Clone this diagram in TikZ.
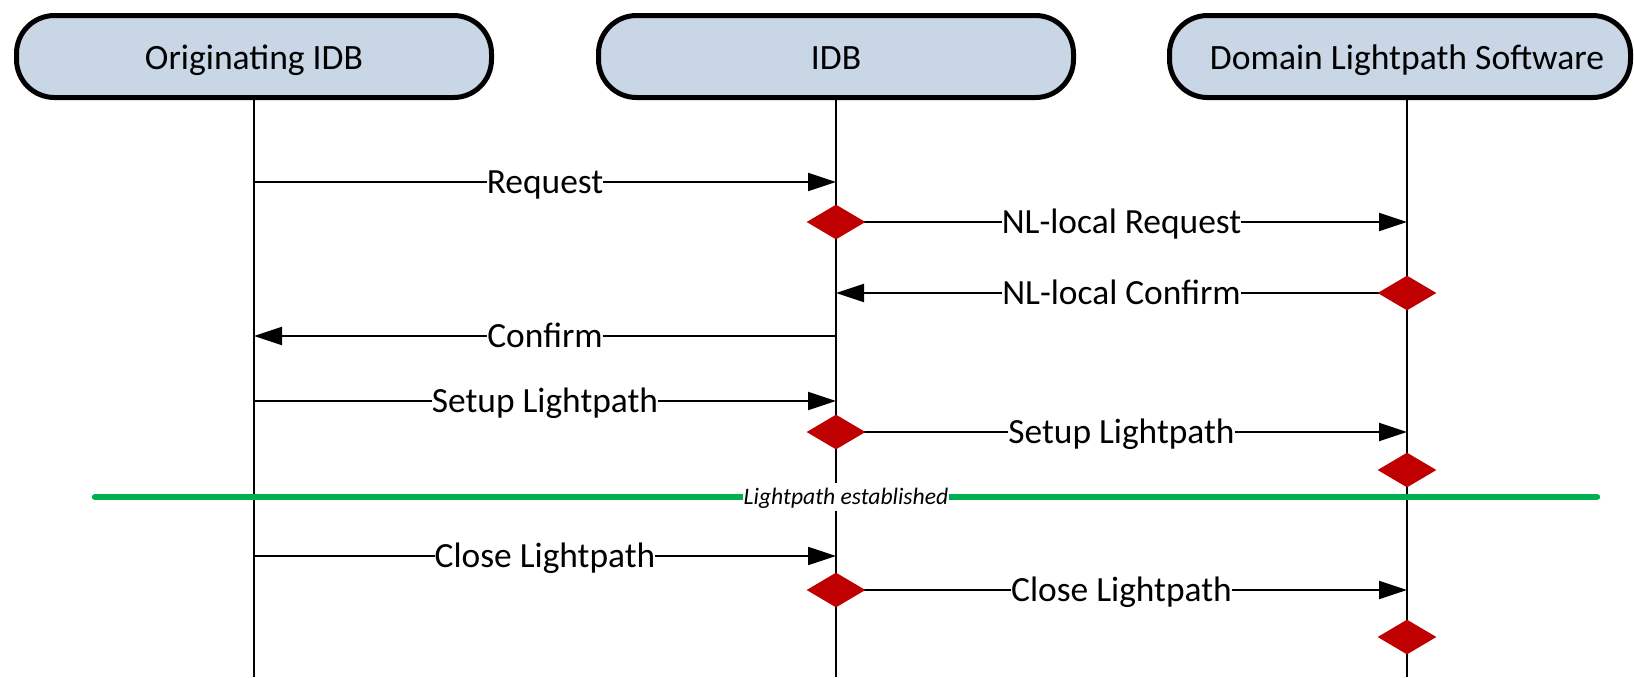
\documentclass[tikz,border=0pt]{standalone}
\usepackage{fontspec}
\setmainfont{Carlito}
\usetikzlibrary{arrows.meta,shapes.geometric}
\definecolor{hdrfill}{RGB}{201,214,229}
\definecolor{dred}{RGB}{192,0,0}
\definecolor{lgreen}{RGB}{0,176,80}
\begin{document}
\begin{tikzpicture}[x=0.5pt,y=-0.5pt,
  hdr/.style={draw=black, line width=2.5pt, fill=hdrfill, rounded corners=19pt,
    minimum width=237.5pt, minimum height=41pt, inner sep=0pt},
  hdrtext/.style={inner sep=0pt, text height=11.5pt, text depth=0pt,
    font=\fontsize{17.8}{21}\selectfont},
  life/.style={line width=1pt},
  msg/.style={line width=1pt, -{Triangle[length=14pt,width=9pt]}},
  lbl/.style={fill=white, inner xsep=0pt, inner ysep=2pt, text height=11.3pt,
    text depth=0pt, font=\fontsize{17.7}{21}\selectfont},
  estab/.style={fill=white, inner xsep=0.5pt, inner ysep=3pt, text height=7.6pt,
    text depth=0pt, font=\fontsize{11.8}{14}\selectfont\itshape},
  act/.style={diamond, fill=dred, minimum width=29.5pt, minimum height=17.5pt,
    inner sep=0pt},
  sep/.style={draw=lgreen, line width=3.2pt, line cap=round}
]
\useasboundingbox (0,0) rectangle (1634,677);

% headers
\node[hdr] (orig) at (254,56.5) {};
\node[hdrtext] (origt) at (254,58) {Originating IDB};
\node[hdr] (idb) at (836,56.5) {};
\node[hdrtext] (idbt) at (836,58) {IDB};
\node[hdr, minimum width=230.5pt] (dls) at (1400,56.5) {};
\node[hdrtext] (dlst) at (1407,58) {Domain Lightpath Software};

% lifeline coordinates
\coordinate (l1top) at (254,100);
\coordinate (l1bot) at (254,677);
\coordinate (l2top) at (836,100);
\coordinate (l2bot) at (836,677);
\coordinate (l3top) at (1407,100);
\coordinate (l3bot) at (1407,677);
\draw[life] (l1top) -- (l1bot);
\draw[life] (l2top) -- (l2bot);
\draw[life] (l3top) -- (l3bot);

% message end points
\coordinate (a1) at (254,182);  \coordinate (b1) at (836,182);
\coordinate (b2) at (836,222);  \coordinate (c2) at (1407,222);
\coordinate (c3) at (1407,293); \coordinate (b3) at (836,293);
\coordinate (b4) at (836,336);  \coordinate (a4) at (254,336);
\coordinate (a5) at (254,401);  \coordinate (b5) at (836,401);
\coordinate (b6) at (836,432);  \coordinate (c6) at (1407,432);
\coordinate (c7) at (1407,470);
\coordinate (a8) at (254,556);  \coordinate (b8) at (836,556);
\coordinate (b9) at (836,590);  \coordinate (c9) at (1407,590);
\coordinate (c10) at (1407,637);

% messages
\draw[msg] (a1) -- node[lbl] (m1) {Request} (b1);
\draw[msg] (b2) -- node[lbl] (m2) {NL-local Request} (c2);
\draw[msg] (c3) -- node[lbl] (m3) {NL-local Confirm} (b3);
\draw[msg] (b4) -- node[lbl] (m4) {Confirm} (a4);
\draw[msg] (a5) -- node[lbl] (m5) {Setup Lightpath} (b5);
\draw[msg] (b6) -- node[lbl] (m6) {Setup Lightpath} (c6);
\draw[msg] (a8) -- node[lbl] (m8) {Close Lightpath} (b8);
\draw[msg] (b9) -- node[lbl] (m9) {Close Lightpath} (c9);

% separator
\coordinate (gl) at (95,497);
\coordinate (gr) at (1597,497);
\draw[sep] (gl) -- node[estab] (est) {Lightpath established} (gr);

% activation diamonds
\node[act] (d2) at (b2) {};
\node[act] (d3) at (c3) {};
\node[act] (d6) at (b6) {};
\node[act] (d7) at (c7) {};
\node[act] (d9) at (b9) {};
\node[act] (d10) at (c10) {};
\end{tikzpicture}
\end{document}
